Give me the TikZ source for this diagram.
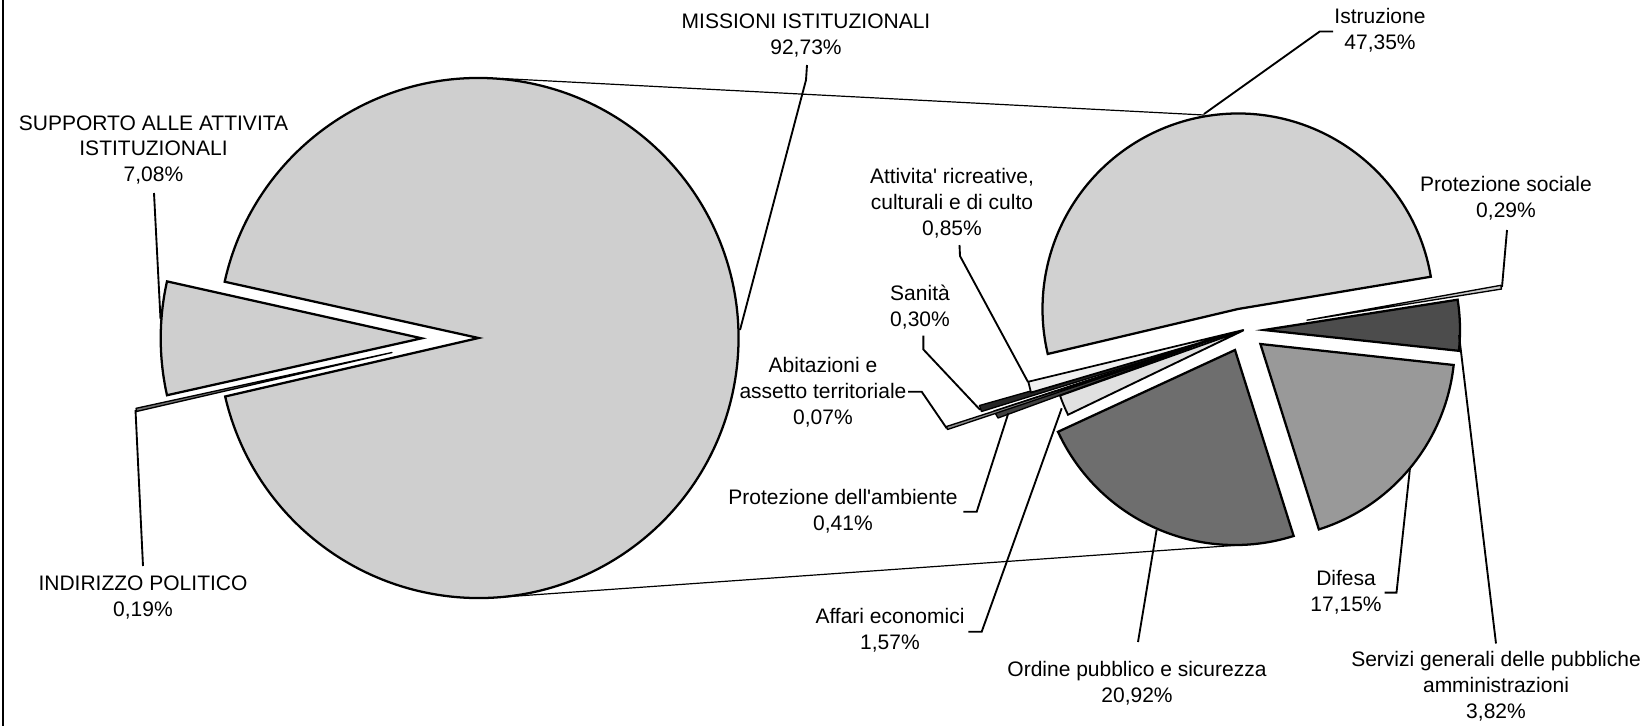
\documentclass[tikz,border=0pt]{standalone}
\usepackage{fontspec}
\setmainfont{Liberation Sans}
\begin{document}
\begin{tikzpicture}[x=0.75pt,y=-0.75pt,
  lbl/.style={font=\fontsize{15.75}{19.3}\selectfont, align=center, inner sep=0pt},
  slice/.style={draw=black, line width=1.7pt, line join=miter},
  thinslice/.style={draw=black, line width=1pt, line join=round},
  leader/.style={draw=black, line width=1.4pt},
  link/.style={draw=black, line width=0.9pt}]
\useasboundingbox (0,0) rectangle (1650,726);
\fill[white] (0,0) rectangle (1650,726);
\draw[line width=0.8pt] (3,0) -- (3,726);

% connectors between the two pies
\coordinate (lt) at (502,78.5);
\coordinate (rt) at (1204,115);
\coordinate (lb) at (503,597);
\coordinate (rb) at (1240,545);
\draw[link] (lt) -- (rt);
\draw[link] (lb) -- (rb);

% left pie
\filldraw[slice, fill=black!19] (478.5,338) -- ++(192.5:260) arc[start angle=192.5, end angle=527, radius=260] -- cycle;
\filldraw[slice, fill=black!19] (421.7,338.3) -- ++(167.4:261) arc[start angle=167.4, end angle=192.6, radius=261] -- cycle;
\filldraw[thinslice, fill=black!55] (392,352.5) -- ++(167.0:262) arc[start angle=167.0, end angle=167.7, radius=262] -- cycle;

% right pie
\filldraw[slice, fill=black!18] (1238,309) -- ++(-9.5:195.5) arc[start angle=-9.5, end angle=-193.3, radius=195.5] -- cycle;
\filldraw[thinslice, fill=black!20] (1306.9,320.2) -- ++(-9.1:197) arc[start angle=-9.1, end angle=-10.2, radius=197] -- cycle;
\filldraw[slice, fill=black!70] (1264,330) -- ++(-8.9:196) arc[start angle=-8.9, end angle=6.1, radius=196] -- cycle;
\filldraw[slice, fill=black!40] (1260.4,344) -- ++(6.2:194.4) arc[start angle=6.2, end angle=72.5, radius=194.4] -- cycle;
\filldraw[slice, fill=black!57] (1235,350) -- ++(72.5:195) arc[start angle=72.5, end angle=155.2, radius=195] -- cycle;
\filldraw[thinslice, fill=black!75] (1222,336) -- (994,411) -- (998,418) -- cycle;
\filldraw[thinslice, fill=black!45] (1190,348) -- (946.5,426.5) -- (947.5,429.5) -- cycle;
\filldraw[thinslice, fill=black!85] (1225,336) -- (979.5,405.5) -- (981.5,411.5) -- cycle;
\filldraw[slice, line width=1.4pt, fill=black!12] (1243.7,330.2) -- ++(154.3:195) arc[start angle=154.3, end angle=160.4, radius=195] -- cycle;
\filldraw[thinslice, line width=1.3pt, fill=black!6] (1243.3,330) -- (1028.3,381.7) -- (1031,392.5) -- cycle;

% labels
\node[lbl] (mis) at (806,35.5) {MISSIONI ISTITUZIONALI\\92,73\%};
\node[lbl] (sup) at (153.5,150) {SUPPORTO ALLE ATTIVITA\\ISTITUZIONALI\\7,08\%};
\node[lbl] (ind) at (143,597.5) {INDIRIZZO POLITICO\\0,19\%};
\node[lbl] (istr) at (1380,30) {Istruzione\\47,35\%};
\node[lbl] (att) at (952,203) {Attivita\textquotesingle{} ricreative,\\culturali e di culto\\0,85\%};
\node[lbl] (san) at (920,307) {Sanità\\0,30\%};
\node[lbl] (abi) at (823,392) {Abitazioni e\\assetto territoriale\\0,07\%};
\node[lbl] (pamb) at (843,511.5) {Protezione dell\textquotesingle ambiente\\0,41\%};
\node[lbl] (aff) at (890,630) {Affari economici\\1,57\%};
\node[lbl] (ord) at (1137,683) {Ordine pubblico e sicurezza\\20,92\%};
\node[lbl] (dif) at (1346,592.5) {Difesa\\17,15\%};
\node[lbl] (serv) at (1496,686) {Servizi generali delle pubbliche\\amministrazioni\\3,82\%};
\node[lbl] (psoc) at (1506,198) {Protezione sociale\\0,29\%};

% leaders
\coordinate (mis1) at (807,65); \coordinate (mis2) at (806,80); \coordinate (mis3) at (740,330);
\draw[leader] (mis1) -- (mis2) -- (mis3);
\coordinate (sup1) at (154,193); \coordinate (sup2) at (160.5,319);
\draw[leader] (sup1) -- (sup2);
\coordinate (ind1) at (143,566); \coordinate (ind2) at (135.5,410);
\draw[leader] (ind1) -- (ind2);
\coordinate (istr1) at (1333,31.5); \coordinate (istr2) at (1319.7,31.5); \coordinate (istr3) at (1204,114);
\draw[leader] (istr1) -- (istr2) -- (istr3);
\coordinate (att1) at (959.5,245); \coordinate (att2) at (960,256); \coordinate (att3) at (1028,382);
\draw[leader] (att1) -- (att2) -- (att3);
\coordinate (san1) at (923.4,335.6); \coordinate (san2) at (923.4,349.5); \coordinate (san3) at (980,409.7);
\draw[leader] (san1) -- (san2) -- (san3);
\coordinate (abi1) at (908,391.7); \coordinate (abi2) at (921.7,391.7); \coordinate (abi3) at (946.7,428.3);
\draw[leader] (abi1) -- (abi2) -- (abi3);
\coordinate (pamb1) at (963.3,511.7); \coordinate (pamb2) at (976.7,511.7); \coordinate (pamb3) at (1008.3,413.3);
\draw[leader] (pamb1) -- (pamb2) -- (pamb3);
\coordinate (aff1) at (968.3,631.7); \coordinate (aff2) at (981.7,631.7); \coordinate (aff3) at (1061.7,408.3);
\draw[leader] (aff1) -- (aff2) -- (aff3);
\coordinate (ord1) at (1138,642); \coordinate (ord2) at (1156.6,530);
\draw[leader] (ord1) -- (ord2);
\coordinate (dif1) at (1384.5,592.6); \coordinate (dif2) at (1396.5,592.6); \coordinate (dif3) at (1410,468);
\draw[leader] (dif1) -- (dif2) -- (dif3);
\coordinate (serv1) at (1496,643.5); \coordinate (serv2) at (1459,335);
\draw[leader] (serv1) -- (serv2);
\coordinate (psoc1) at (1507,230); \coordinate (psoc2) at (1502,287);
\draw[leader] (psoc1) -- (psoc2);
\end{tikzpicture}
\end{document}
